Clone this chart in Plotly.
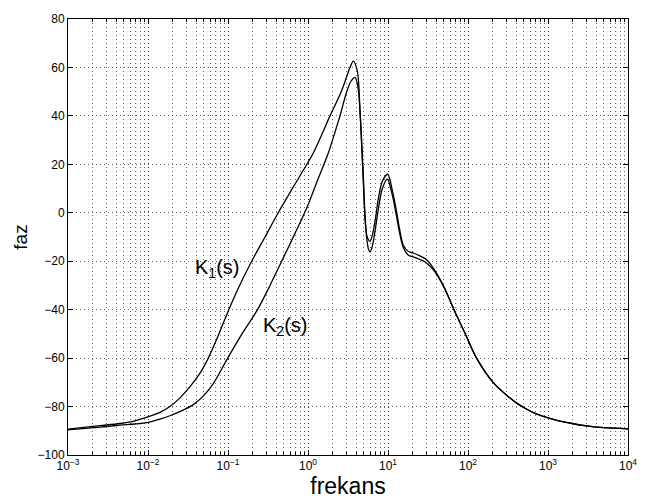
import plotly.graph_objects as go

# K1(s) phase response (frequency, degrees)
k1_freq = [0.001, 0.00251, 0.00447, 0.00688, 0.0101, 0.0141, 0.0188, 0.0251, 0.0335,
           0.0447, 0.0567, 0.0759, 0.1023, 0.1372, 0.1977, 0.2901, 0.4245, 0.794, 1.165,
           1.884, 2.64, 3.35, 3.68, 4.13, 4.47, 4.9, 5.2, 5.5, 5.96, 6.4, 7.0, 7.57, 8.5,
           9.9, 11.2, 12.8, 14.0, 15.6, 18, 20.7, 25, 29.4, 36.7, 49.3, 66.8, 91.7, 128,
           207, 333, 406, 550, 700, 1166, 2000, 3040, 5000, 10000]
k1_phase = [-89.3, -87.9, -87.0, -85.9, -84.2, -82.4, -80, -76.4, -71.8,
            -66.2, -60, -50.5, -40, -30.5, -20, -10, 0, 15.3, 24.7,
            40, 50.5, 60, 62.6, 58.6, 42, 16, -4, -10, -11.8, -9, -2, 5.8, 13,
            15.9, 10, 0.4, -7, -13.5, -16, -16.6, -17.8, -19, -22.7, -30.1, -40, -49.7, -60,
            -70.1, -76.4, -78.6, -81.2, -82.9, -85.3, -87, -88, -88.7, -89.2]

# K2(s) phase response
k2_freq = [0.001, 0.00251, 0.00447, 0.00688, 0.0101, 0.0141, 0.0188, 0.0266, 0.0368,
           0.0487, 0.0655, 0.0964, 0.1496, 0.2339, 0.335, 0.4688, 0.6879, 0.9638, 1.285,
           1.794, 2.113, 2.512, 3.048, 3.447, 3.868, 4.23, 4.5, 4.8, 5.1, 5.4, 5.7, 5.96,
           6.4, 7.0, 7.57, 8.5, 9.8, 11.2, 12.8, 14.0, 15.6, 18, 20.7, 25, 29.4, 36.7,
           49.3, 66.8, 91.7, 128, 207, 333, 406, 550, 700, 1166, 2000, 3040, 5000, 10000]
k2_phase = [-89.6, -88.5, -87.7, -87.2, -86.5, -85.2, -83.8, -81.7, -79.2,
            -75.8, -70.5, -60.7, -50, -40, -30, -20, -8.5, 2, 12.5,
            24.7, 32, 40, 50, 54.3, 55.9, 51.5, 40, 20, 2, -10, -15, -16.2,
            -13.5, -6, 1.5, 10, 13.9, 8, -1.5, -8.5, -14.5, -17.5, -18.2, -19.3, -20.4, -23.5,
            -30.3, -40, -49.7, -60, -70.1, -76.4, -78.6, -81.2, -82.9, -85.3, -87, -88, -88.7, -89.2]

x_tickvals = [1e-3, 1e-2, 1e-1, 1e0, 1e1, 1e2, 1e3, 1e4]
x_ticktext = ["10<sup>\u22123</sup>", "10<sup>\u22122</sup>", "10<sup>\u22121</sup>",
              "10<sup>0</sup>", "10<sup>1</sup>", "10<sup>2</sup>", "10<sup>3</sup>",
              "10<sup>4</sup>"]
y_tickvals = [-100, -80, -60, -40, -20, 0, 20, 40, 60, 80]

FONT = "Liberation Sans, Arial, Helvetica, sans-serif"
GRID = "rgba(0,0,0,0.6)"
DASH = "1px,3px"

fig = go.Figure()
for fx, fy in [(k1_freq, k1_phase), (k2_freq, k2_phase)]:
    fig.add_trace(go.Scatter(x=fx, y=fy, mode="lines",
                             line=dict(color="black", width=1.3, shape="spline", smoothing=0.9),
                             showlegend=False, hoverinfo="skip"))

fig.add_annotation(x=-1.1375, y=-22.8, xref="x", yref="y", text="K<sub>1</sub>(s)",
                   showarrow=False, font=dict(family=FONT, size=20, color="black"))
fig.add_annotation(x=-0.2875, y=-46.9, xref="x", yref="y", text="K<sub>2</sub>(s)",
                   showarrow=False, font=dict(family=FONT, size=20, color="black"))

fig.update_xaxes(type="log", range=[-3, 4], tickvals=x_tickvals, ticktext=x_ticktext,
                 ticks="inside", ticklen=5, tickcolor="black", showline=True, linecolor="black",
                 linewidth=1, mirror="ticks", showgrid=True, gridcolor=GRID, griddash=DASH,
                 gridwidth=1, zeroline=False,
                 minor=dict(dtick="D1", showgrid=True, gridcolor=GRID, griddash=DASH,
                            ticks="inside", ticklen=3, tickcolor="black"),
                 tickfont=dict(family=FONT, size=12, color="black"),
                 title=dict(text="frekans", font=dict(family=FONT, size=23, color="black"),
                            standoff=2))
fig.update_yaxes(range=[-100, 80], tickvals=y_tickvals,
                 ticks="inside", ticklen=5, tickcolor="black", showline=True, linecolor="black",
                 linewidth=1, mirror="ticks", showgrid=True, gridcolor=GRID, griddash=DASH,
                 gridwidth=1, zeroline=False,
                 tickfont=dict(family=FONT, size=12, color="black"),
                 title=dict(text="faz", font=dict(family=FONT, size=19, color="black"),
                            standoff=4))
fig.update_layout(width=651, height=504, margin=dict(l=68, r=23, t=14, b=47),
                  plot_bgcolor="white", paper_bgcolor="white")
fig.write_html("out.html")
